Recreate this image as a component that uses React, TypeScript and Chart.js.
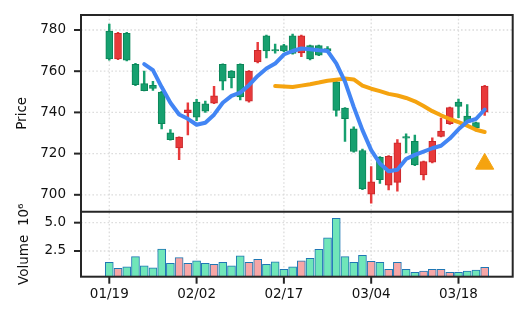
import React, { useEffect, useRef } from 'react';
import { Chart, registerables } from 'chart.js';

Chart.register(...registerables);

const dates = [
  '01/19', '01/20', '01/23', '01/24', '01/25', '01/26', '01/27', '01/30', '01/31', '02/01',
  '02/02', '02/03', '02/06', '02/07', '02/08', '02/09', '02/10', '02/13', '02/14', '02/16',
  '02/17', '02/21', '02/22', '02/23', '02/24', '02/27', '02/28', '03/01', '03/02', '03/03',
  '03/04', '03/07', '03/08', '03/09', '03/10', '03/13', '03/14', '03/15', '03/16', '03/17',
  '03/18', '03/21', '03/22', '03/23',
];

const opens = [
  765.9, 778.4, 765.4, 753.5, 750.6, 751.6, 734.5, 726.8, 728.0, 741.3,
  737.7, 740.6, 748.1, 755.1, 756.9, 747.5, 760.1, 770.1, 769.8, 769.8,
  769.8, 768.6, 777.2, 765.9, 767.8, 769.8, 741.0, 736.9, 721.0, 702.8,
  706.3, 707.3, 718.7, 725.2, 727.5, 714.5, 716.1, 726.0, 730.9, 742.3,
  742.9, 735.3, 732.5, 752.8,
];
const highs = [
  782.9, 778.9, 778.9, 763.8, 760.0, 755.1, 750.2, 731.7, 728.2, 744.7,
  746.3, 745.5, 752.7, 763.6, 760.3, 763.6, 760.3, 774.0, 777.5, 773.2,
  773.0, 778.0, 777.5, 772.7, 772.7, 772.0, 755.1, 742.4, 733.0, 722.2,
  713.7, 718.5, 719.0, 726.8, 729.6, 729.0, 716.4, 727.7, 737.2, 742.6,
  746.5, 743.8, 735.3, 753.1,
];
const lows = [
  765.4, 765.6, 765.0, 753.0, 750.4, 750.7, 732.0, 726.5, 717.0, 729.1,
  736.0, 740.0, 744.2, 750.9, 751.9, 746.0, 745.0, 764.0, 766.5, 768.7,
  769.5, 768.3, 767.0, 765.5, 767.5, 769.4, 738.2, 725.9, 720.7, 702.5,
  696.0, 705.5, 702.4, 701.8, 720.3, 714.2, 707.2, 715.5, 728.1, 734.2,
  737.5, 735.0, 731.0, 738.5,
];
const closes = [
  779.5, 765.9, 778.4, 763.3, 754.0, 753.2, 749.9, 730.1, 722.8, 739.9,
  745.0, 744.2, 744.5, 763.3, 760.1, 763.3, 745.5, 764.5, 777.2, 770.4,
  772.4, 777.2, 768.9, 772.4, 772.4, 771.0, 754.8, 742.1, 732.0, 721.5,
  700.3, 718.2, 704.7, 706.0, 728.3, 726.0, 709.6, 715.8, 728.4, 734.5,
  745.0, 738.2, 735.0, 740.1,
];
const volumes = [
  1.50, 0.97, 1.11, 2.00, 1.20, 1.02, 2.67, 1.41, 1.91, 1.41,
  1.64, 1.41, 1.32, 1.50, 1.20, 2.08, 1.50, 1.76, 1.32, 1.55,
  0.88, 1.11, 1.64, 1.85, 2.65, 3.67, 5.38, 2.00, 1.50, 2.12,
  1.59, 1.50, 0.88, 1.50, 0.88, 0.62, 0.73, 0.88, 0.88, 0.62,
  0.62, 0.73, 0.82, 1.06,
];

const shortMaStart = 4;
const shortMa = [
  763.4, 760.5, 752.3, 744.7, 739.0, 736.9, 734.0, 735.0, 738.9, 744.7,
  748.0, 749.6, 753.2, 757.7, 761.3, 763.7, 768.1, 769.8, 771.0, 770.7,
  770.2, 769.8, 763.8, 754.9, 742.7, 731.4, 721.7, 715.2, 711.4, 712.2,
  717.4, 719.4, 721.0, 722.6, 723.8, 727.3, 731.8, 735.5, 736.8, 741.4,
];
const longMaStart = 19;
const longMa = [
  752.8, 752.6, 752.3, 753.0, 753.7, 754.5, 755.4, 755.9, 756.4, 756.0,
  753.0, 751.5, 750.3, 749.0, 748.2, 747.0, 745.4, 743.1, 740.6, 738.6,
  736.8, 735.3, 733.6, 731.6, 730.5,
];
const markerIndex = 43;
const markerPrice = 715.0;

const priceTicks = [700, 720, 740, 760, 780];
const volumeTicks = [2.5, 5.0];
const dateTickIndexes = [0, 10, 20, 30, 40];

const UP = '#16a06f';
const UP_EDGE = '#0c8558';
const DOWN = '#e8393a';
const DOWN_EDGE = '#c9272a';
const VOL_UP = '#70e6b9';
const VOL_DOWN = '#f7a6a6';
const VOL_EDGE = '#1f77b4';
const BLUE = '#4285f4';
const ORANGE = '#f5a30f';
const TEXT = '#111111';
const FRAME = '#262626';
const GRID = '#dcdcdc';

const framePlugin = {
  id: 'framePlugin',
  beforeDatasetsDraw(chart: any) {
    const { ctx, chartArea: a, scales } = chart;
    ctx.save();
    ctx.strokeStyle = GRID;
    ctx.lineWidth = 1.3;
    ctx.setLineDash([1.6, 2.2]);
    const line = (x1: number, y1: number, x2: number, y2: number) => {
      ctx.beginPath();
      ctx.moveTo(x1, y1);
      ctx.lineTo(x2, y2);
      ctx.stroke();
    };
    for (const v of dateTickIndexes) {
      const x = scales.x.getPixelForValue(v);
      line(x, a.top, x, a.bottom);
    }
    for (const v of priceTicks) {
      const y = scales.y.getPixelForValue(v);
      line(a.left, y, a.right, y);
    }
    for (const v of volumeTicks) {
      const y = scales.y2.getPixelForValue(v);
      line(a.left, y, a.right, y);
    }
    ctx.restore();
  },
  afterDraw(chart: any) {
    const { ctx, chartArea: a, scales } = chart;
    ctx.save();
    ctx.strokeStyle = FRAME;
    ctx.lineWidth = 2;
    ctx.setLineDash([]);
    ctx.strokeRect(a.left, a.top, a.right - a.left, a.bottom - a.top);
    const sep = scales.y.bottom;
    ctx.beginPath();
    ctx.moveTo(a.left, sep);
    ctx.lineTo(a.right, sep);
    ctx.stroke();
    const tick = 7;
    for (const v of dateTickIndexes) {
      const x = scales.x.getPixelForValue(v);
      ctx.beginPath();
      ctx.moveTo(x, a.bottom);
      ctx.lineTo(x, a.bottom + tick);
      ctx.stroke();
    }
    for (const v of priceTicks) {
      const y = scales.y.getPixelForValue(v);
      ctx.beginPath();
      ctx.moveTo(a.left - tick, y);
      ctx.lineTo(a.left, y);
      ctx.stroke();
    }
    for (const v of volumeTicks) {
      const y = scales.y2.getPixelForValue(v);
      ctx.beginPath();
      ctx.moveTo(a.left - tick, y);
      ctx.lineTo(a.left, y);
      ctx.stroke();
    }
    ctx.restore();
  },
};

const zeroPadding = (s: any) => {
  s.paddingTop = 0;
  s.paddingBottom = 0;
  s.paddingLeft = 0;
  s.paddingRight = 0;
};

export default function App() {
  const canvasRef = useRef<HTMLCanvasElement | null>(null);

  useEffect(() => {
    if (!canvasRef.current) return;
    Chart.defaults.font.family = "'DejaVu Sans', sans-serif";
    const idx = dates.map((_, i) => i);
    const isUp = idx.map((i) => closes[i] >= opens[i]);

    const chart = new Chart(canvasRef.current, {
      type: 'bar',
      data: {
        datasets: [
          {
            type: 'line',
            label: 'MA short',
            data: shortMa.map((v, i) => ({ x: shortMaStart + i, y: v })),
            yAxisID: 'y',
            borderColor: BLUE,
            borderWidth: 4,
            pointRadius: 0,
            tension: 0,
            borderJoinStyle: 'round',
            borderCapStyle: 'round',
            order: 1,
          } as any,
          {
            type: 'line',
            label: 'MA long',
            data: longMa.map((v, i) => ({ x: longMaStart + i, y: v })),
            yAxisID: 'y',
            borderColor: ORANGE,
            borderWidth: 4,
            pointRadius: 0,
            tension: 0,
            borderJoinStyle: 'round',
            borderCapStyle: 'round',
            order: 2,
          } as any,
          {
            type: 'line',
            label: 'Signal',
            data: [{ x: markerIndex, y: markerPrice }],
            yAxisID: 'y',
            showLine: false,
            pointStyle: 'triangle',
            pointRadius: 10.5,
            pointBackgroundColor: ORANGE,
            pointBorderColor: ORANGE,
            pointBorderWidth: 1,
            order: 0,
          } as any,
          {
            type: 'bar',
            label: 'Bodies',
            data: idx.map((i) => ({ x: i, y: [opens[i], closes[i]] })),
            yAxisID: 'y',
            backgroundColor: idx.map((i) => (isUp[i] ? UP : DOWN)),
            borderColor: idx.map((i) => (isUp[i] ? UP_EDGE : DOWN_EDGE)),
            borderWidth: 1,
            borderSkipped: false,
            grouped: false,
            barPercentage: 1,
            categoryPercentage: 1,
            maxBarThickness: 7,
            minBarLength: 1.5,
            order: 3,
          } as any,
          {
            type: 'bar',
            label: 'Wicks',
            data: idx.map((i) => ({ x: i, y: [lows[i], highs[i]] })),
            yAxisID: 'y',
            backgroundColor: idx.map((i) => (isUp[i] ? UP : DOWN)),
            borderWidth: 0,
            grouped: false,
            barPercentage: 1,
            categoryPercentage: 1,
            maxBarThickness: 1.8,
            order: 4,
          } as any,
          {
            type: 'bar',
            label: 'Volume',
            data: idx.map((i) => ({ x: i, y: volumes[i] })),
            yAxisID: 'y2',
            backgroundColor: idx.map((i) => (isUp[i] ? VOL_UP : VOL_DOWN)),
            borderColor: VOL_EDGE,
            borderWidth: 1,
            borderSkipped: false,
            grouped: false,
            barPercentage: 1,
            categoryPercentage: 1,
            maxBarThickness: 8,
            base: 0,
            order: 5,
          } as any,
        ],
      },
      options: {
        responsive: false,
        devicePixelRatio: 1,
        animation: false,
        events: [],
        layout: { padding: { left: 0, top: 15, right: 15.3, bottom: 0 } },
        plugins: {
          legend: { display: false },
          tooltip: { enabled: false },
        },
        scales: {
          x: {
            type: 'linear',
            position: 'bottom',
            offset: false,
            min: -3.24,
            max: 46.21,
            grid: { display: false, drawTicks: false, offset: false },
            border: { display: false },
            ticks: {
              autoSkip: false,
              maxRotation: 0,
              padding: 10,
              color: TEXT,
              font: { size: 13.5 },
              callback: (v: any) => dates[Math.round(Number(v))] ?? '',
            },
            afterBuildTicks: (s: any) => {
              s.ticks = dateTickIndexes.map((v) => ({ value: v }));
            },
            afterFit: (s: any) => {
              s.height = 45.3;
              zeroPadding(s);
            },
          },
          y2: {
            type: 'linear',
            position: 'left',
            stack: 'panels',
            stackWeight: 1,
            min: 0.23,
            max: 5.97,
            grid: { display: false, drawTicks: false },
            border: { display: false },
            ticks: {
              padding: 15,
              color: TEXT,
              font: { size: 13.5 },
              callback: (v: any) => Number(v).toFixed(1),
            },
            title: {
              display: true,
              text: 'Volume  10⁶',
              color: TEXT,
              font: { size: 13.5 },
              padding: { top: 16, bottom: 0 },
            },
            afterBuildTicks: (s: any) => {
              s.ticks = volumeTicks.map((v) => ({ value: v }));
            },
            afterFit: (s: any) => {
              s.width = 81;
              zeroPadding(s);
            },
          },
          y: {
            type: 'linear',
            position: 'left',
            stack: 'panels',
            stackWeight: 3.026,
            min: 691.8,
            max: 787.28,
            grid: { display: false, drawTicks: false },
            border: { display: false },
            ticks: {
              padding: 15,
              color: TEXT,
              font: { size: 13.5 },
              callback: (v: any) => String(v),
            },
            title: {
              display: true,
              text: 'Price',
              color: TEXT,
              font: { size: 13.5 },
              padding: { top: 14, bottom: 0 },
            },
            afterBuildTicks: (s: any) => {
              s.ticks = priceTicks.map((v) => ({ value: v }));
            },
            afterFit: (s: any) => {
              s.width = 81;
              zeroPadding(s);
            },
          },
        },
      } as any,
      plugins: [framePlugin],
    });
    return () => chart.destroy();
  }, []);

  return (
    <div style={{ position: 'absolute', left: 0, top: 0, width: 528, height: 322, background: '#ffffff' }}>
      <canvas ref={canvasRef} width={528} height={322} style={{ display: 'block' }} />
    </div>
  );
}
